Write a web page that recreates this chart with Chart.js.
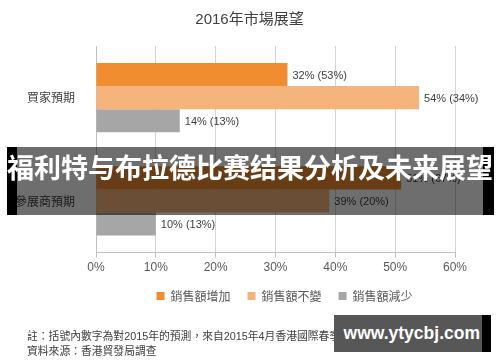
<!DOCTYPE html>
<html>
<head>
<meta charset="utf-8">
<script src="https://cdn.jsdelivr.net/npm/chart.js@4/dist/chart.umd.min.js"></script>
<style>
  body { margin: 0; background: #fff; }
  #wrap { position: relative; width: 500px; height: 362px; overflow: hidden; font-family: "Liberation Sans", "Noto Sans CJK TC", sans-serif; }
  #chart { position: absolute; left: 0; top: 0; }
  .note { position: absolute; left: 27px; font-size: 10.8px; color: #404040; white-space: nowrap; font-family: "Liberation Sans", "Noto Sans CJK TC", sans-serif; }
  .edge { position: absolute; top: 147px; height: 68px; background: #000; }
  #bannerBg { position: absolute; left: 17px; top: 147px; width: 466px; height: 68px; background: rgba(0,0,0,0.57); }
  #bannerText { position: absolute; left: 0; width: 500px; top: 147px; height: 68px; line-height: 68px; text-align: center; color: #fff; font: bold 27px "Noto Sans CJK SC", sans-serif; white-space: nowrap; }
  #wm { position: absolute; left: 334px; top: 315px; width: 148px; height: 37px; background: #575757; border-right: 9px solid #000; color: #fff; font: bold 17.5px "Liberation Sans", sans-serif; line-height: 37px; text-align: right; white-space: nowrap; }
  #wm span { padding-right: 2px; }
</style>
</head>
<body>
<div id="wrap">
  <canvas id="chart" width="500" height="362"></canvas>
  <div class="note" style="top:327px">註：括號內數字為對2015年的預測，來自2015年4月香港國際春季電子產品展問卷調查</div>
  <div class="note" style="top:342px">資料來源：香港貿發局調查</div>
  <div class="edge" style="left:7px;width:10px"></div>
  <div id="bannerBg"></div>
  <div class="edge" style="left:483px;width:11px"></div>
  <div id="bannerText">福利特与布拉德比赛结果分析及未来展望</div>
  <div id="wm"><span>www.ytycbj.com</span></div>
</div>
<script>
const categories = ["買家預期", "參展商預期"];
const seriesNames = ["銷售額增加", "銷售額不變", "銷售額減少"];
const increase = [32, 51];
const unchanged = [54, 39];
const decrease = [14, 10];
const forecast2015 = [[53, 67], [34, 20], [13, 13]];
const xTicks = [0, 10, 20, 30, 40, 50, 60];

const colors = ["rgb(241,141,49)", "rgb(245,180,124)", "rgb(166,166,166)"];
const values = [increase, unchanged, decrease];

// value labels after each bar, e.g. "32% (53%)"
const barLabels = {
    id: "barLabels",
    afterDatasetsDraw(chart) {
        const ctx = chart.ctx;
        ctx.save();
        ctx.font = "11px 'Liberation Sans', sans-serif";
        ctx.fillStyle = "#404040";
        ctx.textBaseline = "middle";
        ctx.textAlign = "left";
        chart.data.datasets.forEach((ds, i) => {
            const meta = chart.getDatasetMeta(i);
            meta.data.forEach((bar, j) => {
                const txt = ds.data[j] + "% (" + forecast2015[i][j] + "%)";
                ctx.fillText(txt, bar.x + 5, bar.y + 1);
            });
        });
        ctx.restore();
    }
};

// title is centred on the page, legend sits a bit right of centre
const nudge = {
    id: "nudge",
    afterLayout(chart) {
        chart.titleBlock.left += 22;
        chart.titleBlock.right += 22;
        chart.legend.left += 57;
        chart.legend.right += 57;
    }
};

new Chart(document.getElementById("chart"), {
    type: "bar",
    data: {
        labels: categories,
        datasets: seriesNames.map((name, i) => ({
            label: name,
            data: values[i],
            backgroundColor: colors[i],
            borderWidth: 0,
            categoryPercentage: 0.67,
            barPercentage: 1.0
        }))
    },
    options: {
        indexAxis: "y",
        responsive: false,
        animation: false,
        layout: { padding: { left: 0, right: 45, top: 0, bottom: 50 } },
        plugins: {
            title: {
                display: true,
                text: "2016年市場展望",
                color: "#404040",
                font: { size: 15, family: "'Liberation Sans', 'Noto Sans CJK TC', sans-serif", weight: "normal" },
                padding: { top: 11, bottom: 17 }
            },
            legend: {
                position: "bottom",
                labels: {
                    boxWidth: 8,
                    boxHeight: 8,
                    padding: 17,
                    color: "#595959",
                    font: { size: 12, family: "'Noto Sans CJK TC', sans-serif" }
                }
            },
            tooltip: { enabled: false }
        },
        scales: {
            x: {
                min: 0,
                max: 60,
                afterBuildTicks: (s) => { s.ticks = xTicks.map(v => ({ value: v })); },
                afterFit: (s) => { s.height -= 5; },
                ticks: {
                    callback: (v) => v + "%",
                    color: "#595959",
                    font: { size: 12, family: "'Liberation Sans', sans-serif" },
                    padding: 3
                },
                grid: { color: "#d4d4d4", tickLength: 5, tickColor: "#bfbfbf" },
                border: { color: "#bfbfbf" }
            },
            y: {
                afterFit: (s) => { s.width = 96; },
                ticks: {
                    color: "#404040",
                    font: { size: 12, family: "'Noto Sans CJK TC', sans-serif" },
                    padding: 13
                },
                grid: { display: false },
                border: { color: "#bfbfbf" }
            }
        }
    },
    plugins: [barLabels, nudge]
});
</script>
</body>
</html>
